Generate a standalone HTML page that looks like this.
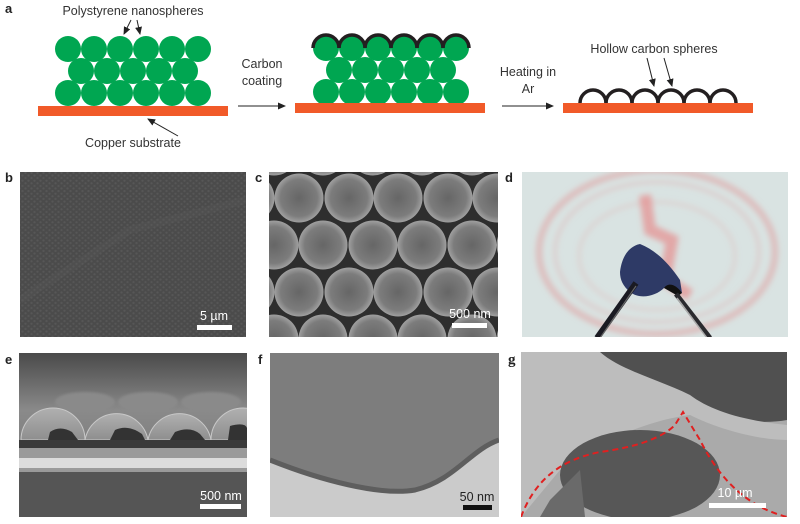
<!DOCTYPE html>
<html><head><meta charset="utf-8"><style>
html,body{margin:0;padding:0;background:#fff;}
svg{display:block;}
.t{font-family:"Liberation Sans",sans-serif;font-size:12.5px;fill:#333;}
.lb{font-family:"Liberation Sans",sans-serif;font-size:13px;font-weight:bold;fill:#222;}
.sb{font-family:"Liberation Sans",sans-serif;font-size:12.5px;}
</style></head><body>
<svg width="800" height="524" viewBox="0 0 800 524" xmlns="http://www.w3.org/2000/svg">
<defs>
<marker id="ar" markerWidth="8" markerHeight="8" refX="7" refY="4" orient="auto" markerUnits="userSpaceOnUse"><path d="M0,0.5 L8,4 L0,7.5 Z" fill="#222"/></marker>
<clipPath id="cb"><rect x="20" y="172" width="226" height="165"/></clipPath>
<clipPath id="cc"><rect x="269" y="172" width="229" height="165"/></clipPath>
<clipPath id="cd"><rect x="522" y="172" width="266" height="165"/></clipPath>
<clipPath id="ce"><rect x="19" y="353" width="228" height="164"/></clipPath>
<clipPath id="cf"><rect x="270" y="353" width="229" height="164"/></clipPath>
<clipPath id="cg"><rect x="521" y="352" width="266" height="165"/></clipPath>
<radialGradient id="sph" cx="50%" cy="50%" r="50%"><stop offset="0" stop-color="#666"/><stop offset="0.75" stop-color="#7c7c7c"/><stop offset="1" stop-color="#a0a0a0"/></radialGradient>
<pattern id="dots" width="6" height="5.2" patternUnits="userSpaceOnUse"><circle cx="1.5" cy="1.3" r="1.1" fill="#5a5a5a"/><circle cx="4.5" cy="3.9" r="1.1" fill="#5a5a5a"/></pattern>
<linearGradient id="eg" x1="0" y1="0" x2="0" y2="1"><stop offset="0" stop-color="#4a4a4a"/><stop offset="0.35" stop-color="#8a8a8a"/><stop offset="1" stop-color="#6a6a6a"/></linearGradient>
<linearGradient id="dome" x1="0" y1="0" x2="0" y2="1"><stop offset="0" stop-color="#b0b0b0"/><stop offset="1" stop-color="#8e8e8e"/></linearGradient>
<filter id="bl"><feGaussianBlur stdDeviation="3"/></filter>
<filter id="bl2"><feGaussianBlur stdDeviation="1.2"/></filter>
</defs>

<!-- Panel a -->
<text class="lb" x="5" y="13">a</text>
<text class="t" x="133" y="15" text-anchor="middle">Polystyrene nanospheres</text>
<line x1="131" y1="20" x2="124" y2="34" stroke="#222" stroke-width="1" marker-end="url(#ar)"/>
<line x1="137" y1="20" x2="140" y2="34" stroke="#222" stroke-width="1" marker-end="url(#ar)"/>
<g fill="#00a651">
<circle cx="68" cy="49" r="13"/><circle cx="94" cy="49" r="13"/><circle cx="120" cy="49" r="13"/><circle cx="146" cy="49" r="13"/><circle cx="172" cy="49" r="13"/><circle cx="198" cy="49" r="13"/>
<circle cx="81" cy="71" r="13"/><circle cx="107" cy="71" r="13"/><circle cx="133" cy="71" r="13"/><circle cx="159" cy="71" r="13"/><circle cx="185" cy="71" r="13"/>
<circle cx="68" cy="93" r="13"/><circle cx="94" cy="93" r="13"/><circle cx="120" cy="93" r="13"/><circle cx="146" cy="93" r="13"/><circle cx="172" cy="93" r="13"/><circle cx="198" cy="93" r="13"/>
</g>
<rect x="38" y="106" width="190" height="10" fill="#f15a29"/>
<line x1="178" y1="136" x2="148" y2="119" stroke="#222" stroke-width="1" marker-end="url(#ar)"/>
<text class="t" x="133" y="147" text-anchor="middle">Copper substrate</text>
<text class="t" x="262" y="68" text-anchor="middle">Carbon</text>
<text class="t" x="262" y="85" text-anchor="middle">coating</text>
<line x1="238" y1="106" x2="285" y2="106" stroke="#222" stroke-width="1" marker-end="url(#ar)"/>

<g fill="#00a651">
<circle cx="326" cy="48" r="13"/><circle cx="352" cy="48" r="13"/><circle cx="378" cy="48" r="13"/><circle cx="404" cy="48" r="13"/><circle cx="430" cy="48" r="13"/><circle cx="456" cy="48" r="13"/>
<circle cx="339" cy="70" r="13"/><circle cx="365" cy="70" r="13"/><circle cx="391" cy="70" r="13"/><circle cx="417" cy="70" r="13"/><circle cx="443" cy="70" r="13"/>
<circle cx="326" cy="92" r="13"/><circle cx="352" cy="92" r="13"/><circle cx="378" cy="92" r="13"/><circle cx="404" cy="92" r="13"/><circle cx="430" cy="92" r="13"/><circle cx="456" cy="92" r="13"/>
</g>
<g fill="none" stroke="#231f20" stroke-width="3.5">
<path d="M313,48 A13,13 0 0 1 339,48"/><path d="M339,48 A13,13 0 0 1 365,48"/><path d="M365,48 A13,13 0 0 1 391,48"/><path d="M391,48 A13,13 0 0 1 417,48"/><path d="M417,48 A13,13 0 0 1 443,48"/><path d="M443,48 A13,13 0 0 1 469,48"/>
</g>
<rect x="295" y="103" width="190" height="10" fill="#f15a29"/>
<text class="t" x="528" y="76" text-anchor="middle">Heating in</text>
<text class="t" x="528" y="93" text-anchor="middle">Ar</text>
<line x1="502" y1="106" x2="553" y2="106" stroke="#222" stroke-width="1" marker-end="url(#ar)"/>

<rect x="563" y="103" width="190" height="10" fill="#f15a29"/>
<g fill="none" stroke="#231f20" stroke-width="3.5">
<path d="M580,103 A13,13 0 0 1 606,103"/><path d="M606,103 A13,13 0 0 1 632,103"/><path d="M632,103 A13,13 0 0 1 658,103"/><path d="M658,103 A13,13 0 0 1 684,103"/><path d="M684,103 A13,13 0 0 1 710,103"/><path d="M710,103 A13,13 0 0 1 736,103"/>
</g>
<text class="t" x="654" y="53" text-anchor="middle">Hollow carbon spheres</text>
<line x1="647" y1="58" x2="654" y2="86" stroke="#222" stroke-width="1" marker-end="url(#ar)"/>
<line x1="664" y1="58" x2="672" y2="86" stroke="#222" stroke-width="1" marker-end="url(#ar)"/>

<!-- Panel b -->
<text class="lb" x="5" y="182">b</text>
<g clip-path="url(#cb)">
<rect x="20" y="172" width="226" height="165" fill="#4b4b4b"/>
<rect x="20" y="172" width="226" height="165" fill="url(#dots)" opacity="0.8"/>
<path d="M20,300 L130,230 L246,200" stroke="#5a5a5a" stroke-width="8" fill="none" opacity="0.25"/>
</g>
<text class="sb" x="214" y="320" text-anchor="middle" fill="#fff">5 µm</text>
<rect x="197" y="325" width="35" height="5" fill="#fff"/>

<!-- Panel c -->
<text class="lb" x="255" y="182">c</text>
<g clip-path="url(#cc)">
<rect x="269" y="172" width="229" height="165" fill="#2e2e2e"/>
<g fill="url(#sph)">
<circle cx="250" cy="198" r="24.5"/><circle cx="299" cy="198" r="24.5"/><circle cx="349" cy="198" r="24.5"/><circle cx="398" cy="198" r="24.5"/><circle cx="448" cy="198" r="24.5"/><circle cx="497" cy="198" r="24.5"/>
<circle cx="274" cy="245" r="24.5"/><circle cx="323" cy="245" r="24.5"/><circle cx="373" cy="245" r="24.5"/><circle cx="422" cy="245" r="24.5"/><circle cx="472" cy="245" r="24.5"/><circle cx="521" cy="245" r="24.5"/>
<circle cx="250" cy="292" r="24.5"/><circle cx="299" cy="292" r="24.5"/><circle cx="349" cy="292" r="24.5"/><circle cx="398" cy="292" r="24.5"/><circle cx="448" cy="292" r="24.5"/><circle cx="497" cy="292" r="24.5"/>
<circle cx="274" cy="339" r="24.5"/><circle cx="323" cy="339" r="24.5"/><circle cx="373" cy="339" r="24.5"/><circle cx="422" cy="339" r="24.5"/><circle cx="472" cy="339" r="24.5"/><circle cx="521" cy="339" r="24.5"/>
<circle cx="274" cy="151" r="24.5"/><circle cx="323" cy="151" r="24.5"/><circle cx="373" cy="151" r="24.5"/><circle cx="422" cy="151" r="24.5"/><circle cx="472" cy="151" r="24.5"/>
</g>
</g>
<text class="sb" x="470" y="318" text-anchor="middle" fill="#fff">500 nm</text>
<rect x="452" y="323" width="35" height="5" fill="#fff"/>

<!-- Panel d -->
<text class="lb" x="505" y="182">d</text>
<g clip-path="url(#cd)">
<rect x="522" y="172" width="266" height="165" fill="#d9e3e2"/>
<g filter="url(#bl)" fill="none" stroke="#e0a0a0">
<ellipse cx="657" cy="252" rx="118" ry="82" stroke-width="6" opacity="0.6"/>
<ellipse cx="657" cy="252" rx="102" ry="70" stroke-width="3" opacity="0.4"/>
<ellipse cx="657" cy="256" rx="78" ry="54" stroke-width="3" opacity="0.3"/>
<path d="M645,195 L650,230 L672,240 L665,280 L690,295" stroke="#e88080" stroke-width="12" opacity="0.6"/>
</g>
<path d="M620,272 C622,255 630,246 640,244 C655,250 668,262 680,280 L682,293 C676,288 670,286 664,288 C656,296 640,300 630,292 C623,286 620,280 620,272 Z" fill="#2e3a66"/>
<path d="M664,288 C668,282 676,284 682,293 L678,296 Z" fill="#111"/>
<line x1="597" y1="338" x2="636" y2="283" stroke="#1a1a22" stroke-width="6"/>
<line x1="600" y1="338" x2="636" y2="286" stroke="#666" stroke-width="1.2"/>
<line x1="710" y1="338" x2="676" y2="294" stroke="#2a2a2e" stroke-width="5"/>
<line x1="707" y1="338" x2="677" y2="298" stroke="#aaa" stroke-width="1.5"/>
</g>

<!-- Panel e -->
<text class="lb" x="5" y="364">e</text>
<g clip-path="url(#ce)">
<rect x="19" y="353" width="228" height="164" fill="url(#eg)"/>
<g fill="#8a8a8a" filter="url(#bl2)"><ellipse cx="85" cy="402" rx="30" ry="10"/><ellipse cx="148" cy="402" rx="30" ry="10"/><ellipse cx="211" cy="402" rx="30" ry="10"/></g>
<g fill="url(#dome)" stroke="#c8c8c8" stroke-width="1">
<path d="M21,440 A32,32 0 0 1 85,440 Z"/><path d="M85,440 A32,32 0 0 1 148,440 Z"/><path d="M148,440 A32,32 0 0 1 211,440 Z"/><path d="M211,440 A32,32 0 0 1 275,440 Z"/>
</g>
<g fill="#333"><path d="M50,432 Q60,425 72,432 L78,440 L48,440 Z"/><path d="M115,430 Q128,424 142,434 L145,440 L110,440 Z"/><path d="M175,432 Q190,426 200,434 L205,440 L170,440 Z"/><path d="M230,426 Q245,422 247,428 L247,440 L228,440 Z"/></g>
<rect x="19" y="440" width="228" height="8" fill="#3a3a3a"/>
<rect x="19" y="448" width="228" height="10" fill="#9a9a9a"/>
<rect x="19" y="458" width="228" height="10" fill="#dcdcdc"/>
<rect x="19" y="468" width="228" height="4" fill="#9a9a9a"/>
<rect x="19" y="472" width="228" height="45" fill="#555"/>
</g>
<text class="sb" x="221" y="500" text-anchor="middle" fill="#fff">500 nm</text>
<rect x="200" y="504" width="41" height="5" fill="#fff"/>

<!-- Panel f -->
<text class="lb" x="258" y="364">f</text>
<g clip-path="url(#cf)">
<rect x="270" y="353" width="229" height="164" fill="#cbcbcb"/>
<path d="M270,353 L499,353 L499,440 C470,450 455,480 415,490 C380,496 320,480 270,460 Z" fill="#7d7d7d"/>
<path d="M270,460 C320,480 380,496 415,490 C455,480 470,450 499,440" fill="none" stroke="#5e5e5e" stroke-width="5"/>
</g>
<text class="sb" x="477" y="501" text-anchor="middle" fill="#222">50 nm</text>
<rect x="463" y="505" width="29" height="5" fill="#111"/>

<!-- Panel g -->
<text class="lb" x="508" y="364" style="font-family:'Liberation Serif',serif;font-size:15px">g</text>
<g clip-path="url(#cg)">
<rect x="521" y="352" width="266" height="165" fill="#aaaaaa"/>
<path d="M600,352 L787,352 L787,420 C760,425 720,420 690,405 C660,390 630,380 600,372 Z" fill="#505050"/>
<path d="M521,352 L600,352 C620,370 660,380 690,395 C710,410 740,420 787,425 L787,440 C760,440 720,430 690,415 C650,420 600,440 560,470 L521,517 Z" fill="#bdbdbd"/>
<ellipse cx="640" cy="475" rx="80" ry="45" fill="#575757"/>
<path d="M550,500 L580,470 L585,517 L540,517 Z" fill="#6a6a6a"/>
<path d="M521,517 C535,480 560,460 600,452 C630,448 660,440 675,425 L683,412 L700,440 C715,470 740,505 787,517" fill="none" stroke="#e02020" stroke-width="2" stroke-dasharray="6,4"/>
</g>
<text class="sb" x="735" y="497" text-anchor="middle" fill="#fff">10 µm</text>
<rect x="709" y="503" width="57" height="5" fill="#fff"/>
</svg>
</body></html>
